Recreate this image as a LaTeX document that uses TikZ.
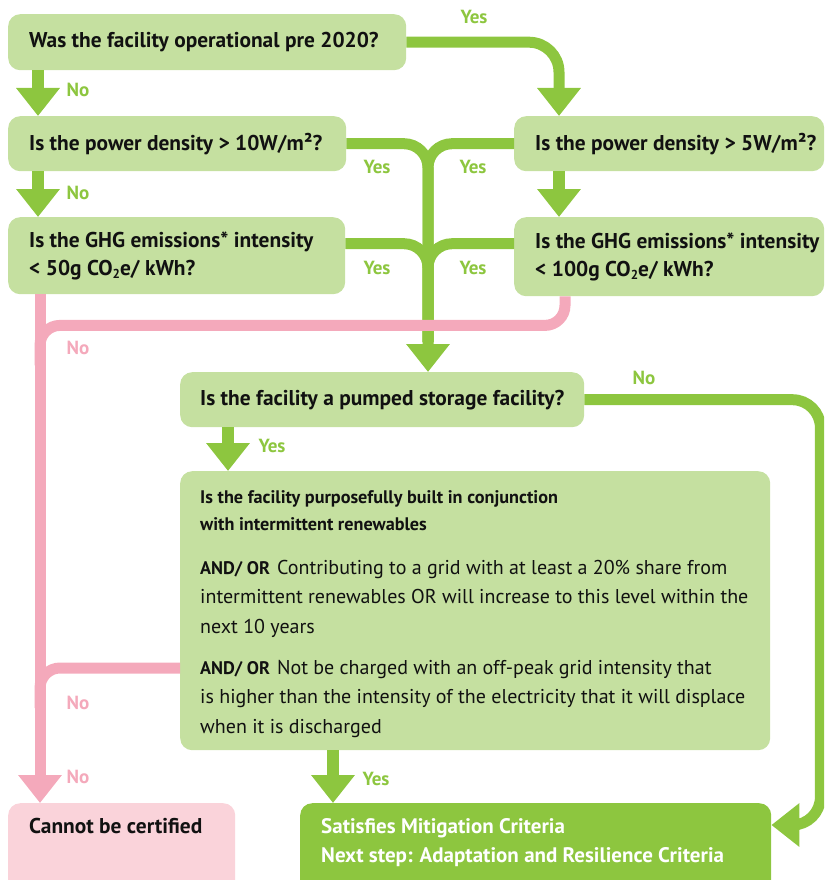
\documentclass[tikz,border=0pt]{standalone}
\usepackage{fontspec}
\setmainfont{PT Sans}
\usetikzlibrary{arrows.meta,calc}
\definecolor{boxgreen}{HTML}{C5E0A0}
\definecolor{arrgreen}{HTML}{8DC63F}
\definecolor{linkpink}{HTML}{F4A9BB}
\definecolor{boxpink}{HTML}{FAD3DA}
\definecolor{txt}{HTML}{111111}
\newcommand{\qfont}{\fontsize{21.4}{28}\selectfont\bfseries}
\newcommand{\lfont}{\fontsize{19}{19}\selectfont\bfseries}
\newcommand{\tline}[1]{\hbox to\hsize{#1\hss}}
\newcommand{\cosub}{CO\raisebox{-3pt}{\fontsize{13}{13}\selectfont 2}e}
\begin{document}
\begin{tikzpicture}[x=1pt,y=-1pt,
  box/.style={rounded corners=12pt, anchor=north west, inner xsep=21pt, inner ysep=0pt, font=\qfont, text=txt},
  gbox/.style={box, fill=boxgreen},
  lab/.style={font=\lfont, text=arrgreen, inner sep=0pt},
  plab/.style={font=\lfont, text=linkpink, inner sep=0pt},
  gline/.style={draw=arrgreen, line width=11pt, rounded corners=24pt},
  garr/.style={gline, -{Triangle[width=42pt,length=28pt]}},
  pline/.style={draw=linkpink, line width=11pt, rounded corners=20pt},
  parr/.style={pline, -{Triangle[width=42pt,length=28pt]}}]
\useasboundingbox (0,0) rectangle (824,880);
\clip (0,0) rectangle (824,880);

% boxes
\node[gbox, minimum height=56pt] (A) at (8,14) {\parbox{356pt}{\tline{Was the facility operational pre 2020?}}};
\node[gbox, minimum height=55pt] (B) at (8,116) {\parbox{296pt}{\tline{Is the power density > 10W/m²?}}};
\node[gbox, minimum height=55pt] (C) at (514,116) {\parbox{268pt}{\tline{Is the power density > 5W/m²?}}};
\node[gbox, minimum height=77pt] (D) at (8,217) {\parbox{295pt}{\tline{Is the GHG emissions* intensity}\tline{< 50g \cosub/ kWh?}}};
\node[gbox, minimum height=79pt] (E) at (514,217) {\parbox{268pt}{\tline{Is the GHG emissions* intensity}\tline{< 100g \cosub/ kWh?}}};
\node[gbox, inner xsep=20pt, minimum height=55pt] (F) at (180,372) {\parbox{364pt}{\tline{Is the facility a pumped storage facility?}}};
\node[gbox, inner xsep=20pt] (G) at (180,471) {\parbox[c][279pt][t]{550pt}{\vspace*{19pt}%
  \fontsize{18.2}{27}\selectfont
  \tline{Is the facility purposefully built in conjunction}%
  \tline{with intermittent renewables}%
  \fontsize{20}{29.5}\selectfont\mdseries\vspace{14.5pt}%
  \tline{\textbf{\fontsize{18.2}{20}\selectfont AND/ OR}\hspace{7pt}Contributing to a grid with at least a 20\% share from}%
  \tline{intermittent renewables OR will increase to this level within the}%
  \tline{next 10 years}%
  \vspace{11.5pt}%
  \tline{\textbf{\fontsize{18.2}{20}\selectfont AND/ OR}\hspace{7pt}Not be charged with an off-peak grid intensity that}%
  \tline{is higher than the intensity of the electricity that it will displace}%
  \tline{when it is discharged}}};
\node[box, fill=boxpink] (K) at (8,803) {\parbox[c][100pt][t]{185pt}{\vspace*{15.5pt}\tline{Cannot be certified}}};
\node[box, fill=arrgreen, text=white] (H) at (300,803) {\parbox[c][100pt][t]{429pt}{\vspace*{15.5pt}\fontsize{21}{29}\selectfont
  \tline{Satisfies Mitigation Criteria}\tline{Next step: Adaptation and Resilience Criteria}}};

% helper coordinates
\coordinate (Ctop) at ([xshift=45pt]C.north west);
\coordinate (Ftop) at ([xshift=248pt]F.north west);
\coordinate (Dout) at ([yshift=12pt]D.east);
\coordinate (Eout) at ([yshift=13pt]E.west);
\coordinate (Dbot) at ([xshift=32pt]D.south west);
\coordinate (Kin) at ([xshift=32pt]K.north west);
\coordinate (Ebot) at ([xshift=51pt]E.south west);
\coordinate (Pr) at ([yshift=-29pt]Ebot);
\coordinate (Gout) at ([yshift=-197pt]G.north west);
\coordinate (Rc) at ([xshift=236pt]F.east);
\coordinate (Hin) at ([yshift=-22pt]H.north east);

% green connectors
\draw[garr, rounded corners=30pt] (A.east) -- (A.east -| Ctop) -- (Ctop);
\draw[garr, line width=12pt] ([xshift=30pt]A.south west) -- ([xshift=30pt]B.north west);
\draw[garr, line width=12pt] ([xshift=30pt]B.south west) -- ([xshift=30pt]D.north west);
\draw[garr, line width=12pt] ([xshift=45pt]C.south west) -- ([xshift=45pt]E.north west);
\draw[garr] (B.east) -- (B.east -| Ftop) -- (Ftop);
\draw[gline] (C.west) -- (C.west -| Ftop) -- ($(Ftop)+(0,-30)$);
\draw[gline] (Dout) -- (Dout -| Ftop) -- ($(Ftop)+(0,-30)$);
\draw[gline] (Eout) -- (Eout -| Ftop) -- ($(Ftop)+(0,-30)$);
\draw[garr, line width=12pt] ([xshift=48pt]F.south west) -- ([xshift=48pt]G.north west);
\draw[garr, line width=12pt] ([xshift=153pt]G.south west) -- ([xshift=33pt]H.north west);
\draw[garr, rounded corners=28pt] (F.east) -- (Rc) -- (Rc |- Hin) -- (Hin);

% pink connectors
\draw[parr] (Dbot) -- (Kin);
\draw[pline] (Ebot) -- (Pr) -- (Pr -| Dbot) -- ($(Pr -| Dbot)+(0,40)$);
\draw[pline] (Gout) -- (Gout -| Dbot) -- ($(Gout -| Dbot)+(0,40)$);

% labels
\node[lab] (y1) at (474,17) {Yes};
\node[lab] (n1) at (78,90) {No};
\node[lab] (n2) at (78,193) {No};
\node[lab] (y2) at (377,167) {Yes};
\node[lab] (y3) at (473,167) {Yes};
\node[lab] (y4) at (377,268) {Yes};
\node[lab] (y5) at (473,268) {Yes};
\node[plab] (p1) at (78,348) {No};
\node[lab] (n3) at (644,378) {No};
\node[lab] (y6) at (272,446) {Yes};
\node[plab] (p2) at (78,703) {No};
\node[plab] (p3) at (78,777) {No};
\node[lab] (y7) at (376,779) {Yes};
\end{tikzpicture}
\end{document}
